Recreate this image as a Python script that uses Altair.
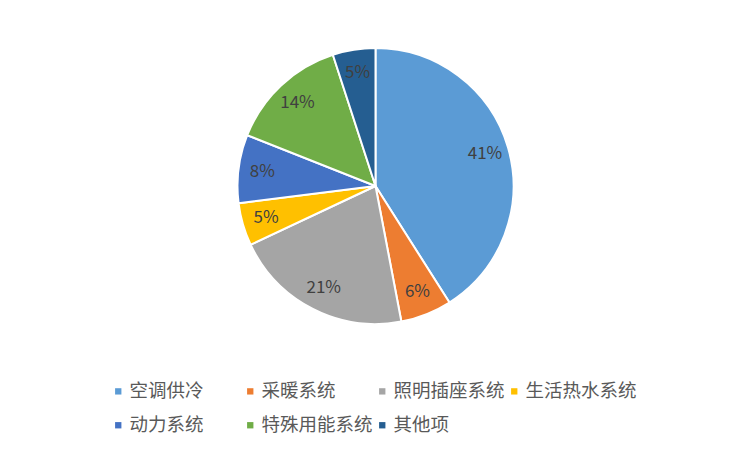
import altair as alt
import pandas as pd

categories = ["空调供冷", "采暖系统", "照明插座系统", "生活热水系统", "动力系统", "特殊用能系统", "其他项"]
values = [41, 6, 21, 5, 8, 14, 5]
colors = ["#5B9BD5", "#ED7D31", "#A5A5A5", "#FFC000", "#4472C4", "#70AD47", "#255E91"]

df = pd.DataFrame({
    "cat": categories,
    "val": values,
    "idx": list(range(len(categories))),
    "label": [f"{v}%" for v in values],
})

FONT = "Noto Sans CJK SC"

base = alt.Chart(df).encode(
    theta=alt.Theta("val:Q", stack=True),
    order=alt.Order("idx:Q", sort="ascending"),
)

pie = base.mark_arc(outerRadius=138, stroke="white", strokeWidth=2).encode(
    color=alt.Color(
        "cat:N",
        scale=alt.Scale(domain=categories, range=colors),
        sort=categories,
        legend=alt.Legend(
            title=None,
            orient="none",
            legendX=101,
            legendY=374,
            direction="horizontal",
            columns=4,
            gridAlign="all",
            symbolType="square",
            symbolSize=40,
            symbolStrokeWidth=0,
            labelFont=FONT,
            labelFontSize=18.5,
            labelColor="#595959",
            labelOffset=2,
            labelLimit=300,
            columnPadding=0,
            rowPadding=15,
            padding=0,
        ),
    )
)

labels = base.mark_text(radius=114, font=FONT, fontSize=17, color="#404040").encode(
    text="label:N"
)

chart = (
    alt.layer(pie, labels)
    .properties(width=735, height=356, padding=0, background="white")
    .configure_view(stroke=None)
)

chart.save("out.html", embed_options={"renderer": "svg", "actions": False})
